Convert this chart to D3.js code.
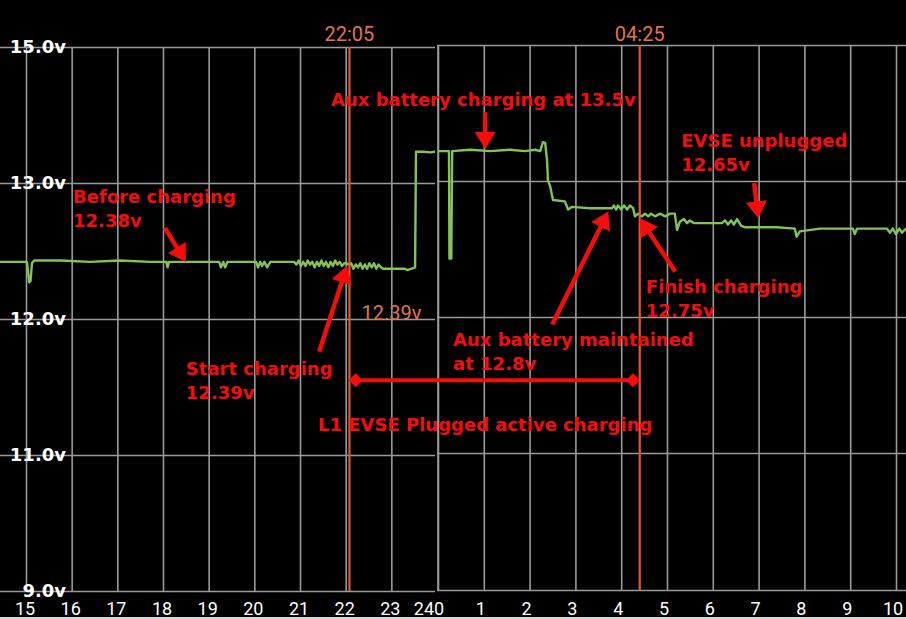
<!DOCTYPE html>
<html><head><meta charset="utf-8">
<script src="https://cdn.jsdelivr.net/npm/d3@7"></script>
<style>html,body{margin:0;padding:0;background:#000;}svg{display:block}</style>
</head><body><svg id="c" width="906" height="619"></svg>
<script>
// ---------- data ----------
const yTicks = [9, 11, 12, 13, 15];
const yTickLabels = ["9.0v", "11.0v", "12.0v", "13.0v", "15.0v"];
const eveningHours = [15, 16, 17, 18, 19, 20, 21, 22, 23, 24];
const morningHours = [0, 1, 2, 3, 4, 5, 6, 7, 8, 9, 10];

const eveningTime = [14.43,14.87,15.02,15.07,15.10,15.13,15.18,15.75,16.40,17.06,17.72,18.07,18.10,18.13,18.81,19.23,19.27,19.32,19.36,19.41,20.04,20.08,20.13,20.17,20.22,20.28,20.35,20.87,20.92,20.97,21.02,21.07,21.12,21.17,21.22,21.27,21.32,21.37,21.42,21.47,21.52,21.57,21.62,21.67,21.72,21.77,21.82,21.87,21.92,21.97,22.02,22.07,22.12,22.17,22.22,22.27,22.32,22.37,22.42,22.47,22.52,22.57,22.62,22.67,22.72,22.77,22.82,23.00,23.30,23.35,23.45,23.52,23.54,23.70,23.85,23.97];
const eveningVolts = [12.42,12.42,12.42,12.27,12.28,12.41,12.43,12.43,12.42,12.43,12.42,12.42,12.38,12.42,12.42,12.42,12.38,12.42,12.38,12.42,12.42,12.38,12.42,12.39,12.42,12.38,12.42,12.42,12.40,12.43,12.39,12.42,12.39,12.43,12.40,12.42,12.38,12.42,12.39,12.43,12.39,12.42,12.38,12.42,12.39,12.43,12.40,12.42,12.39,12.41,12.41,12.40,12.41,12.37,12.40,12.38,12.41,12.37,12.40,12.37,12.41,12.38,12.41,12.37,12.40,12.38,12.37,12.37,12.37,12.36,12.37,12.38,13.46,13.46,13.45,13.46];

const morningTime = [0.00,0.24,0.25,0.29,0.31,0.70,1.14,1.57,1.90,2.12,2.23,2.29,2.34,2.38,2.40,2.45,2.51,2.77,2.84,2.93,3.32,3.80,3.84,3.89,3.93,4.00,4.06,4.13,4.19,4.26,4.30,4.37,4.45,4.52,4.59,4.65,4.74,4.85,4.96,5.07,5.17,5.22,5.28,5.37,5.44,5.50,5.59,5.72,6.20,6.27,6.33,6.40,6.46,6.53,6.62,6.70,7.40,7.79,7.83,7.90,8.34,9.06,9.10,9.15,9.80,9.87,9.93,10.00,10.07,10.13,10.22];
const morningVolts = [13.44,13.44,12.43,12.43,13.44,13.46,13.44,13.46,13.44,13.46,13.44,13.57,13.56,13.31,13.01,12.96,12.86,12.85,12.79,12.81,12.80,12.80,12.82,12.79,12.82,12.79,12.82,12.79,12.82,12.80,12.74,12.76,12.74,12.76,12.74,12.76,12.74,12.76,12.74,12.76,12.76,12.64,12.70,12.72,12.69,12.71,12.69,12.69,12.69,12.71,12.68,12.71,12.68,12.72,12.67,12.66,12.66,12.65,12.59,12.63,12.65,12.65,12.61,12.65,12.65,12.62,12.65,12.61,12.65,12.62,12.65];

const markerLabels = ["22:05", "04:25"];
const markerHours = [22.083, 28.417];     // continuous hours (24+ = next morning)
const markerValueLabel = "12.39v";

const noteLines = [
  ["Before charging", "12.38v"],
  ["Aux battery charging at 13.5v"],
  ["EVSE unplugged", "12.65v"],
  ["Start charging", "12.39v"],
  ["Aux battery maintained", "at 12.8v"],
  ["Finish charging", "12.75v"]
];
// anchor in chart units: [hour, volts]
const noteTextAt = [[16.03,12.853],[21.68,14.13],[29.32,13.53],[18.50,11.59],[24.35,11.80],[28.55,12.19]];
const noteArrowFrom = [[18.04,12.67],[25.05,14.04],[30.91,13.0],[21.42,11.76],[26.51,11.96],[29.19,12.35]];
const noteArrowTo   = [[18.50,12.42],[25.05,13.50],[31.00,12.74],[22.03,12.39],[27.73,12.79],[28.42,12.74]];
const rangeHours = [22.22, 28.27];
const rangeVolt = 11.55;
const rangeLabel = "L1 EVSE Plugged active charging";
const rangeLabelAt = [25.05, 11.18];

// ---------- scales ----------
const svg = d3.select("#c");
const W = 906, H = 619;
svg.append("rect").attr("width", W).attr("height", H).attr("fill", "#000");

const xL = d3.scaleLinear().domain([15, 24]).range([26, 437]);
const xR = d3.scaleLinear().domain([0, 10]).range([438, 896]);
const xAll = d3.scaleLinear().domain([15, 24, 34]).range([26, 437, 896]);
const yL = d3.scaleLinear().domain(yTicks).range([591, 455, 319, 183, 47]);
const yR = d3.scaleLinear().domain(yTicks).range([590, 453, 317, 181, 45]);

const GRID = "#9a9a9a", GREEN = "#84c456", ORANGE = "#e4582c", ORANGE_T = "#e2744a", RED = "#f50d0d";

const defs = svg.append("defs");
defs.append("clipPath").attr("id", "clipL").append("rect").attr("x", 0).attr("y", 0).attr("width", 435).attr("height", H);
defs.append("clipPath").attr("id", "clipR").append("rect").attr("x", 437).attr("y", 0).attr("width", W - 437).attr("height", H);

// ---------- left panel ----------
const gL = svg.append("g").attr("clip-path", "url(#clipL)");
gL.append("g").call(d3.axisLeft(yL).tickValues(yTicks).tickFormat(""))
  .call(g => g.select(".domain").remove())
  .call(g => g.selectAll("line").attr("x1", 0).attr("x2", 435).attr("stroke", GRID).attr("stroke-width", 1.6));
gL.append("g").attr("transform", `translate(0,${yL(9)})`)
  .call(d3.axisBottom(xL).tickValues(eveningHours.slice(0, -1)).tickSize(-(yL(9) - yL(15))).tickFormat(""))
  .call(g => g.select(".domain").remove())
  .call(g => g.selectAll("line").attr("stroke", GRID).attr("stroke-width", 1.6));

// ---------- right panel ----------
const gR = svg.append("g").attr("clip-path", "url(#clipR)");
gR.append("g").call(d3.axisLeft(yR).tickValues(yTicks).tickFormat(""))
  .call(g => g.select(".domain").remove())
  .call(g => g.selectAll("line").attr("x1", 437).attr("x2", W).attr("stroke", GRID).attr("stroke-width", 1.6));
gR.append("g").attr("transform", `translate(0,${yR(9)})`)
  .call(d3.axisBottom(xR).tickValues(morningHours).tickSize(-(yR(9) - yR(15))).tickFormat(""))
  .call(g => g.select(".domain").remove())
  .call(g => g.selectAll("line").attr("stroke", GRID).attr("stroke-width", 1.6));
gR.append("line").attr("x1", 437).attr("x2", 437).attr("y1", yR(15)).attr("y2", yR(9))
  .attr("stroke", GRID).attr("stroke-width", 1.6);

// ---------- y labels ----------
svg.append("g").selectAll("text").data(yTicks).join("text")
  .attr("x", 66).attr("y", d => yL(d)).attr("dy", "0.35em")
  .attr("text-anchor", "end").attr("fill", "#fff")
  .attr("font-family", "DejaVu Sans").attr("font-weight", "bold").attr("font-size", 18)
  .text((d, i) => yTickLabels[i]);

// ---------- x labels ----------
const xlab = svg.append("g").attr("font-family", "Roboto").attr("font-size", 18).attr("fill", "#fff");
xlab.selectAll("text.e").data(eveningHours).join("text").attr("class", "e")
  .attr("x", d => d === 24 ? xL(d) - 3 : xL(d) - 1).attr("y", 615)
  .attr("text-anchor", d => d === 24 ? "end" : "middle").text(d => d);
xlab.selectAll("text.m").data(morningHours).join("text").attr("class", "m")
  .attr("x", d => d === 0 ? xR(d) - 4 : xR(d) - 3).attr("y", 615)
  .attr("text-anchor", d => d === 0 ? "start" : "middle").text(d => d);

// ---------- orange time markers ----------
markerHours.forEach((h, i) => {
  const x = xAll(h);
  const y = i === 0 ? yL : yR;
  svg.append("line").attr("x1", x).attr("x2", x).attr("y1", y(15)).attr("y2", y(9))
    .attr("stroke", ORANGE).attr("stroke-width", 2.2);
  svg.append("text").attr("x", x).attr("y", 41).attr("text-anchor", "middle")
    .attr("font-family", "Roboto").attr("font-size", 20).attr("fill", ORANGE_T).text(markerLabels[i]);
});
svg.append("text").attr("x", xAll(markerHours[0]) + 12).attr("y", yL(12) + 1)
  .attr("font-family", "Roboto").attr("font-size", 20).attr("fill", ORANGE_T).text(markerValueLabel);

// ---------- voltage line ----------
const evening = eveningTime.map((t, i) => [t, eveningVolts[i]]);
const morning = morningTime.map((t, i) => [t, morningVolts[i]]);
gL.append("path").datum(evening)
  .attr("d", d3.line().x(d => xL(d[0])).y(d => yL(d[1])))
  .attr("fill", "none").attr("stroke", GREEN).attr("stroke-width", 2.4).attr("stroke-linejoin", "round");
gR.append("path").datum(morning)
  .attr("d", d3.line().x(d => xR(d[0])).y(d => yR(d[1])))
  .attr("fill", "none").attr("stroke", GREEN).attr("stroke-width", 2.4).attr("stroke-linejoin", "round");

// ---------- annotations ----------
const ann = svg.append("g");
function arrow(from, to) {
  const x0 = xAll(from[0]), y0 = yL(from[1]), x1 = xAll(to[0]), y1 = yL(to[1]);
  const dx = x1 - x0, dy = y1 - y0, len = Math.hypot(dx, dy);
  const ux = dx / len, uy = dy / len, hl = 17, hw = 10.5;
  const bx = x1 - ux * hl, by = y1 - uy * hl;
  ann.append("line").attr("x1", x0).attr("y1", y0).attr("x2", bx + ux * 2).attr("y2", by + uy * 2)
    .attr("stroke", RED).attr("stroke-width", 4.5);
  ann.append("path").attr("d", `M${x1},${y1}L${bx - uy * hw},${by + ux * hw}L${bx + uy * hw},${by - ux * hw}Z`)
    .attr("fill", RED);
}
noteLines.forEach((lines, i) => {
  const t = ann.append("text").attr("x", xAll(noteTextAt[i][0])).attr("y", yL(noteTextAt[i][1]))
    .attr("font-family", "DejaVu Sans").attr("font-weight", "bold").attr("font-size", 18).attr("fill", RED);
  lines.forEach((s, j) => t.append("tspan").attr("x", xAll(noteTextAt[i][0])).attr("dy", j ? 24 : 0).text(s));
  arrow(noteArrowFrom[i], noteArrowTo[i]);
});
// range bar
const ry = yL(rangeVolt);
ann.append("line").attr("x1", xAll(rangeHours[0])).attr("x2", xAll(rangeHours[1])).attr("y1", ry).attr("y2", ry)
  .attr("stroke", RED).attr("stroke-width", 4);
rangeHours.forEach(h => {
  const cx = xAll(h);
  ann.append("path").attr("d", `M${cx - 7},${ry}L${cx},${ry - 7}L${cx + 7},${ry}L${cx},${ry + 7}Z`).attr("fill", RED);
});
ann.append("text").attr("x", xAll(rangeLabelAt[0])).attr("y", yL(rangeLabelAt[1])).attr("text-anchor", "middle")
  .attr("font-family", "DejaVu Sans").attr("font-weight", "bold").attr("font-size", 18).attr("fill", RED).text(rangeLabel);

svg.append("rect").attr("x", 0).attr("y", 617).attr("width", W).attr("height", 2).attr("fill", "#d8d8d8");
</script></body></html>
